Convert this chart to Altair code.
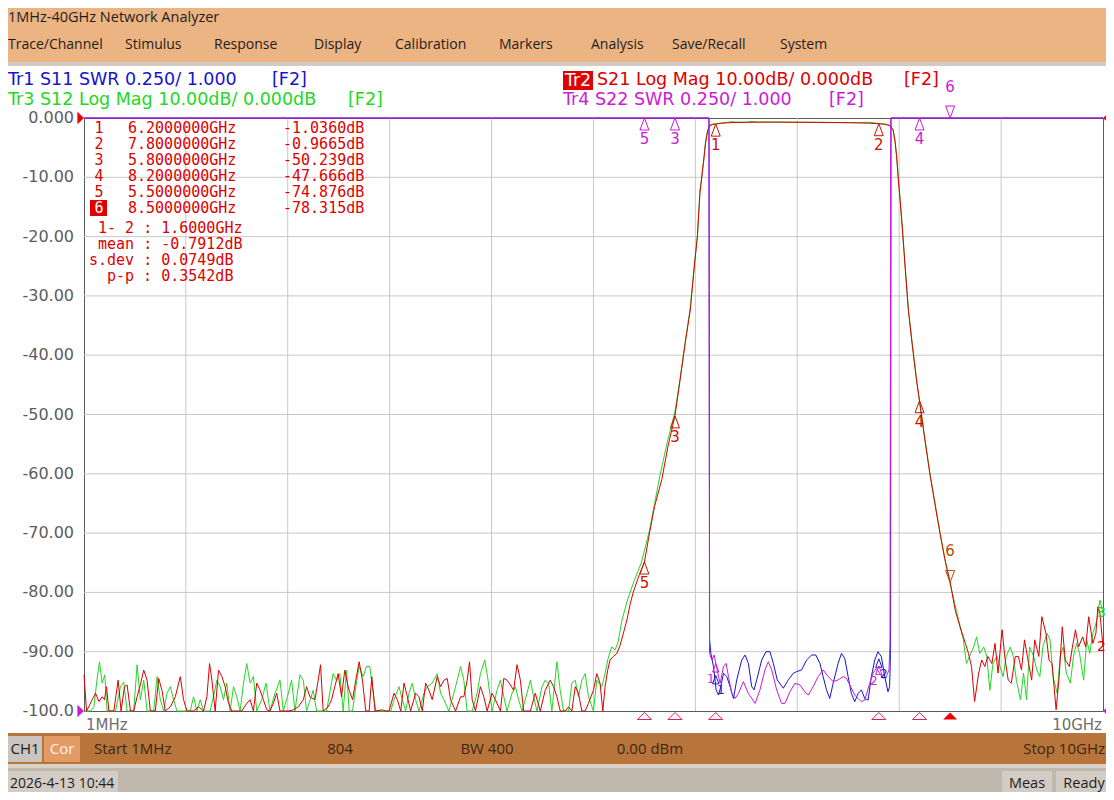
import altair as alt
import pandas as pd

# ---------------- data (GHz, value) ----------------
# Tr2  S21 Log Mag (dB)
S21_LOW = [(0.001,-93.9),(0.026,-100),(0.082,-98.1),(0.114,-97.0),(0.147,-98.4),(0.179,-97.6),(0.202,-98.1),(0.222,-95.9),
 (0.245,-100),(0.294,-100),(0.336,-94.8),(0.365,-100),(0.398,-95.9),(0.424,-95.6),(0.457,-100),(0.489,-100),(0.522,-97.6),
 (0.554,-95.6),(0.587,-93.1),(0.620,-94.8),(0.652,-100),(0.701,-100),(0.734,-94.5),(0.766,-96.5),(0.799,-100),(0.848,-99.3),
 (0.897,-97.6),(0.946,-94.2),(0.978,-98.1),(1.011,-100),(1.076,-100),(1.125,-99.3),(1.174,-100),(1.207,-97.6),(1.233,-92.0),
 (1.256,-94.8),(1.288,-100),(1.321,-93.1),(1.354,-94.2),(1.386,-95.9),(1.419,-98.7),(1.451,-100),(1.549,-100),(1.598,-98.7),
 (1.631,-98.1),(1.663,-100),(1.696,-95.3),(1.729,-96.5),(1.761,-98.1),(1.794,-99.8),(1.826,-100),(1.859,-98.7),(1.892,-97.0),
 (1.924,-100),(2.006,-100),(2.055,-99.8),(2.104,-99.3),(2.153,-98.1),(2.185,-95.9),(2.218,-97.6),(2.267,-98.1),(2.299,-94.8),
 (2.322,-92.2),(2.348,-100),(2.397,-99.3),(2.430,-98.1),(2.462,-95.9),(2.495,-93.7),(2.528,-97.6),(2.560,-93.1),(2.593,-95.9),
 (2.603,-96.5),(2.636,-98.1),(2.668,-94.8),(2.701,-91.7),(2.733,-94.8),(2.766,-100),(2.799,-100),(2.825,-94.2),(2.857,-100),
 (2.929,-99.8),(2.962,-100),(2.994,-100),(3.043,-97.0),(3.076,-98.1),(3.109,-100),(3.141,-95.3),(3.174,-97.6),(3.206,-100),
 (3.255,-97.0),(3.288,-97.6),(3.321,-100),(3.353,-95.3),(3.386,-96.5),(3.418,-98.1),(3.467,-94.2),(3.500,-95.9),(3.533,-94.8),
 (3.565,-94.5),(3.598,-98.1),(3.647,-100),(3.696,-97.6),(3.728,-97.6),(3.761,-94.8),(3.784,-91.7),(3.810,-98.1),(3.842,-100),
 (3.891,-95.9),(3.924,-97.6),(3.957,-100),(4.005,-97.0),(4.038,-98.1),(4.087,-100),(4.120,-94.5),(4.152,-94.8),(4.185,-95.6),
 (4.217,-96.5),(4.250,-92.2),(4.283,-94.8),(4.315,-100),(4.381,-100),(4.429,-97.0),(4.478,-100),(4.527,-96.5),(4.576,-94.8),
 (4.609,-95.9),(4.641,-97.6),(4.674,-100),(4.723,-100),(4.756,-99.3),(4.788,-100),(4.821,-95.9),(4.853,-97.0),(4.886,-100),
 (4.919,-100),(4.951,-98.7),(5.000,-96.5),(5.033,-93.7),(5.065,-95.3),(5.092,-100),(5.114,-95.9),(5.140,-93.1),(5.163,-91.4),
 (5.196,-90.8),(5.229,-90.3)]
S21_BAND = [(5.26,-89.0),(5.30,-86.5),(5.33,-84.5),(5.36,-82.0),(5.39,-80.0),(5.45,-77.0),(5.50,-74.9),(5.55,-70.0),
 (5.60,-65.5),(5.67,-61.0),(5.73,-55.5),(5.80,-50.2),(5.85,-44.2),(5.90,-38.0),(5.95,-32.4),(5.99,-25.0),(6.02,-20.0),
 (6.045,-12.6),(6.08,-7.5),(6.10,-4.2),(6.12,-2.2),(6.14,-1.3),(6.17,-1.1),(6.20,-1.04),(6.25,-0.90),(6.30,-0.82),
 (6.40,-0.76),(6.50,-0.73),(6.60,-0.71),(6.70,-0.70),(6.80,-0.70),(6.90,-0.71),(7.00,-0.72),(7.20,-0.74),(7.40,-0.77),
 (7.60,-0.82),(7.70,-0.88),(7.80,-0.97),(7.86,-1.05),(7.91,-1.3),(7.94,-2.0),(7.96,-4.0),(7.975,-6.5),(7.99,-10.0),
 (8.01,-14.0),(8.03,-18.4),(8.06,-25.5),(8.09,-32.4),(8.13,-38.5),(8.17,-44.2),(8.20,-47.7),(8.25,-54.0),(8.30,-59.9),
 (8.35,-65.0),(8.40,-70.0),(8.45,-74.5),(8.50,-78.3),(8.55,-83.0),(8.60,-86.0),(8.65,-88.6)]
S21_HIGH = [(8.68,-90.3),(8.71,-92.5),(8.74,-98.4),(8.78,-93.6),(8.81,-91.4),(8.84,-92.5),(8.87,-90.8),(8.91,-92.0),
 (8.94,-88.6),(8.97,-93.6),(9.01,-86.3),(9.04,-91.4),(9.07,-94.8),(9.10,-95.3),(9.14,-90.8),(9.17,-90.8),(9.20,-93.1),
 (9.23,-88.0),(9.27,-92.0),(9.30,-94.8),(9.33,-88.0),(9.37,-90.8),(9.40,-84.1),(9.44,-86.9),(9.47,-91.4),(9.50,-92.0),
 (9.54,-99.8),(9.57,-94.2),(9.60,-85.8),(9.63,-91.4),(9.67,-92.5),(9.70,-89.2),(9.73,-86.3),(9.76,-89.2),(9.80,-87.5),
 (9.83,-89.2),(9.86,-84.1),(9.90,-88.6),(9.93,-86.9),(9.95,-82.4),(9.97,-83.5),(10.0,-89.2)]

# Tr3  S12 Log Mag (dB)
S12_LOW = [(0.001,-100),(0.065,-100),(0.098,-99.3),(0.130,-94.5),(0.153,-91.7),(0.179,-95.3),(0.205,-93.9),(0.228,-100),
 (0.310,-100),(0.359,-95.9),(0.391,-95.1),(0.424,-100),(0.489,-100),(0.522,-92.2),(0.554,-98.1),(0.587,-94.8),(0.620,-100),
 (0.685,-100),(0.718,-94.2),(0.750,-98.1),(0.783,-100),(0.815,-97.0),(0.848,-95.9),(0.881,-98.1),(0.913,-100),(1.044,-100),
 (1.076,-97.6),(1.109,-100),(1.142,-98.1),(1.174,-100),(1.239,-100),(1.272,-97.6),(1.305,-94.8),(1.337,-95.9),(1.370,-98.1),
 (1.402,-95.3),(1.435,-100),(1.468,-95.9),(1.500,-97.6),(1.533,-100),(1.566,-95.3),(1.598,-92.0),(1.631,-95.3),(1.663,-94.2),
 (1.696,-100),(1.745,-98.1),(1.787,-95.3),(1.826,-100),(1.875,-97.0),(1.924,-94.8),(1.957,-100),(2.006,-97.0),(2.038,-94.8),
 (2.071,-100),(2.120,-93.9),(2.153,-94.8),(2.185,-100),(2.250,-96.5),(2.283,-100),(2.381,-100),(2.446,-93.7),(2.479,-94.8),
 (2.511,-93.7),(2.544,-100),(2.577,-93.1),(2.603,-100),(2.636,-100),(2.668,-95.9),(2.701,-92.5),(2.740,-94.2),(2.773,-92.5),
 (2.805,-92.5),(2.831,-95.9),(2.864,-100),(3.011,-100),(3.043,-98.1),(3.092,-95.9),(3.125,-98.1),(3.157,-100),(3.190,-97.0),
 (3.223,-95.3),(3.255,-98.1),(3.288,-100),(3.337,-97.0),(3.369,-95.9),(3.418,-95.3),(3.467,-93.7),(3.500,-97.0),(3.533,-98.1),
 (3.581,-100),(3.630,-97.0),(3.663,-94.8),(3.696,-92.5),(3.728,-94.8),(3.761,-100),(3.810,-100),(3.859,-97.0),(3.891,-93.7),
 (3.934,-91.4),(3.966,-94.8),(4.005,-100),(4.054,-96.5),(4.087,-94.8),(4.120,-97.6),(4.152,-100),(4.201,-97.0),(4.234,-95.9),
 (4.266,-98.1),(4.299,-100),(4.348,-97.0),(4.381,-94.8),(4.413,-97.6),(4.446,-100),(4.495,-95.9),(4.527,-94.8),(4.560,-95.3),
 (4.592,-100),(4.641,-91.7),(4.674,-96.5),(4.707,-100),(4.756,-100),(4.788,-95.3),(4.821,-94.8),(4.853,-97.6),(4.886,-94.8),
 (4.919,-93.7),(4.951,-97.6),(5.000,-100),(5.033,-94.8),(5.082,-95.9),(5.114,-93.7),(5.140,-91.4),(5.179,-89.2),(5.212,-89.7)]
S12_BAND = [(5.24,-88.5),(5.28,-84.7),(5.33,-81.5),(5.40,-78.0),(5.47,-75.0),(5.55,-69.5),(5.60,-65.0),(5.65,-60.5),
 (5.72,-55.0),(5.80,-49.5),(5.85,-44.0),(5.90,-37.8),(5.95,-32.0),(5.99,-24.8),(6.02,-19.8),(6.045,-12.5),(6.08,-7.3),
 (6.10,-4.0),(6.12,-2.1),(6.14,-1.2),(6.17,-1.0),(6.20,-0.98),(6.25,-0.86),(6.30,-0.76),(6.36,-0.62),(6.40,-0.70),
 (6.50,-0.70),(6.56,-0.58),(6.62,-0.68),(6.80,-0.69),(7.00,-0.71),(7.20,-0.73),(7.40,-0.76),(7.60,-0.80),(7.72,-0.72),
 (7.80,-0.95),(7.86,-1.03),(7.91,-1.25),(7.94,-1.9),(7.96,-3.9),(7.975,-6.4),(7.99,-9.9),(8.01,-13.9),(8.03,-18.3),
 (8.06,-25.3),(8.09,-32.2),(8.13,-38.3),(8.17,-44.0),(8.20,-48.0),(8.25,-53.8),(8.30,-59.7),(8.35,-64.8),(8.40,-69.8),
 (8.45,-74.6),(8.50,-78.5),(8.53,-80.7)]
S12_HIGH = [(8.56,-83.0),(8.60,-85.8),(8.63,-88.0),(8.66,-92.0),(8.69,-90.8),(8.73,-89.2),(8.76,-87.5),(8.79,-90.3),
 (8.83,-89.2),(8.86,-90.8),(8.89,-96.5),(8.92,-92.0),(8.96,-90.8),(8.99,-92.5),(9.02,-94.2),(9.05,-90.8),(9.09,-89.2),
 (9.12,-90.8),(9.15,-94.8),(9.19,-98.1),(9.22,-93.6),(9.25,-98.1),(9.28,-89.2),(9.32,-90.8),(9.35,-93.1),(9.38,-94.2),
 (9.41,-89.2),(9.45,-86.9),(9.48,-88.0),(9.51,-94.2),(9.55,-97.0),(9.58,-90.8),(9.61,-89.2),(9.64,-93.6),(9.68,-95.3),
 (9.71,-90.8),(9.74,-88.6),(9.77,-90.3),(9.81,-94.8),(9.84,-88.0),(9.87,-90.3),(9.90,-86.9),(9.94,-84.7),(9.97,-81.3),
 (10.0,-83.5)]

# Tr1  S11 SWR  (off-scale values are above 3.5)
S11_SWR = [(0.001,20),(6.134,20),(6.140,1.30),(6.152,1.243),(6.178,1.187),(6.204,1.089),(6.227,1.067),(6.250,1.103),
 (6.276,1.159),(6.308,1.145),(6.341,1.103),(6.374,1.053),(6.406,1.131),(6.455,1.215),(6.488,1.236),(6.520,1.201),
 (6.553,1.103),(6.576,1.089),(6.602,1.131),(6.651,1.215),(6.693,1.250),(6.732,1.250),(6.765,1.201),(6.804,1.131),
 (6.863,1.096),(6.912,1.131),(6.961,1.159),(6.993,1.166),(7.042,1.173),(7.091,1.215),(7.140,1.236),(7.182,1.236),
 (7.222,1.201),(7.254,1.145),(7.287,1.089),(7.319,1.053),(7.352,1.117),(7.401,1.201),(7.434,1.243),(7.466,1.222),
 (7.499,1.145),(7.531,1.074),(7.564,1.039),(7.597,1.074),(7.629,1.089),(7.662,1.053),(7.695,1.046),(7.727,1.145),
 (7.760,1.215),(7.792,1.250),(7.825,1.229),(7.858,1.145),(7.890,1.081),(7.906,1.103),(7.912,1.187),(7.916,1.356),
 (7.920,20),(10.0,20)]
# Tr4  S22 SWR
S22_SWR = [(0.001,20),(6.133,20),(6.139,1.243),(6.162,1.215),(6.184,1.236),(6.210,1.180),(6.243,1.117),(6.276,1.187),
 (6.302,1.201),(6.325,1.145),(6.357,1.074),(6.390,1.053),(6.423,1.074),(6.471,1.124),(6.520,1.074),(6.586,1.032),
 (6.634,1.089),(6.683,1.173),(6.716,1.208),(6.749,1.173),(6.798,1.089),(6.846,1.032),(6.879,1.032),(6.928,1.081),
 (6.977,1.117),(7.026,1.110),(7.075,1.081),(7.107,1.067),(7.156,1.103),(7.205,1.145),(7.254,1.173),(7.303,1.145),
 (7.352,1.124),(7.401,1.131),(7.450,1.145),(7.482,1.138),(7.515,1.110),(7.564,1.067),(7.597,1.053),(7.629,1.039),
 (7.662,1.046),(7.711,1.117),(7.743,1.159),(7.776,1.180),(7.809,1.159),(7.841,1.138),(7.874,1.145),(7.900,1.173),
 (7.910,1.285),(7.917,20),(10.0,20)]

# markers
MK_NUM = ["1", "2", "3", "4", "5", "6"]
MK_FREQ = [6.2, 7.8, 5.8, 8.2, 5.5, 8.5]
MK_S21 = [-1.0360, -0.9665, -50.239, -47.666, -74.876, -78.315]
MK_S11 = [1.15, 1.22]          # markers 1, 2 on Tr1
MK_S22 = [1.20, 1.19]          # markers 1, 2 on Tr4 (3..6 off-scale)
STAT_LABEL = ["1- 2", "mean", "s.dev", "p-p"]
STAT_VALUE = ["1.6000GHz", "-0.7912dB", "0.0749dB", "0.3542dB"]

Y_TICKS = [0, -10, -20, -30, -40, -50, -60, -70, -80, -90, -100]
Y_LABELS = ["0.000", "-10.00", "-20.00", "-30.00", "-40.00", "-50.00", "-60.00", "-70.00", "-80.00", "-90.00", "-100.0"]
X_GRID = [1, 2, 3, 4, 5, 6, 7, 8, 9]

MENU = ["Trace/Channel", "Stimulus", "Response", "Display", "Calibration",
        "Markers", "Analysis", "Save/Recall", "System"]
STATUS = ["Start 1MHz", "804", "BW 400", "0.00 dBm", "Stop 10GHz"]

# ---------------- layout / style ----------------
W, H = 1019, 593
PAD = {"left": 76, "top": 110, "right": 3, "bottom": 81}
RIGHT = W + 3
RED, GREEN, BLUE, MAG = "#DD0000", "#22D822", "#1414D0", "#CC1AD6"
SANS, MONO, UI = "DejaVu Sans", "DejaVu Sans Mono", "Open Sans"

XS = alt.Scale(domain=[0.001, 10], nice=False, zero=False)
YDB = alt.Scale(domain=[-100, 0], nice=False, zero=False, clamp=True)
YSWR = alt.Scale(domain=[1.0, 3.5], nice=False, zero=False, clamp=True)


def tdf(pairs):
    df = pd.DataFrame(pairs, columns=["f", "v"])
    df["i"] = range(len(df))
    return df


def trace(pairs, color, yscale):
    return alt.Chart(tdf(pairs)).mark_line(color=color, strokeWidth=1).encode(
        x=alt.X("f:Q", scale=XS, axis=None),
        y=alt.Y("v:Q", scale=yscale, axis=None),
        order="i:Q")


def rect(x0, x1, y0, y1, color):
    return alt.Chart(pd.DataFrame({"a": [0]})).mark_rect(color=color).encode(
        x=alt.value(x0), x2=alt.value(x1), y=alt.value(y0), y2=alt.value(y1))


def label(t, x, y, color, size=17.5, font=SANS, align="left"):
    return alt.Chart(pd.DataFrame({"t": [t]})).mark_text(
        align=align, baseline="middle", font=font, fontSize=size, color=color).encode(
        x=alt.value(x), y=alt.value(y), text="t:N")


TRI_BELOW = "M0,0L-0.45,1.2L0.45,1.2Z"
TRI_ABOVE = "M0,0L-0.45,-1.2L0.45,-1.2Z"
TRI_AXIS = "M0,-0.5L-1,0.5L1,0.5Z"
TRI_RIGHT = "M0,0L-1.1,-1.05L-1.1,1.05Z"
TRI_LEFT = "M0,0L1.1,-1.05L1.1,1.05Z"

# ---------------- chrome ----------------
deco = [
    rect(-76, RIGHT, -110, -56, "#ECB383"),
    rect(-76, RIGHT, -56, -52, "#D3CBC3"),
    rect(-76, RIGHT, 615, 646, "#B8753B"),
    rect(-76, RIGHT, 646, 650, "#D9D1C7"),
    rect(-76, RIGHT, 650, 674, "#C0B8AD"),
    rect(-76, -42, 618, 644, "#CAC5BF"),
    rect(-40, -4, 618, 644, "#E39B66"),
    rect(-76, 34, 653, 674, "#D2CCC4"),
    rect(918, 968, 653, 674, "#D2CCC4"),
    rect(972, RIGHT, 653, 674, "#D2CCC4"),
    rect(479, 509, -47, -28, "#E00000"),
    rect(6, 23, 82, 98, "#E00000"),
]

# grid and y labels through the dB scale
ygrid = alt.Chart(pd.DataFrame({"v": Y_TICKS[1:-1]})).mark_rule(color="#C8C8C8", strokeWidth=1).encode(
    y=alt.Y("v:Q", scale=YDB, axis=None), x=alt.value(0), x2=alt.value(W))
xgrid = alt.Chart(pd.DataFrame({"f": X_GRID})).mark_rule(color="#C8C8C8", strokeWidth=1).encode(
    x=alt.X("f:Q", scale=XS, axis=None), y=alt.value(0), y2=alt.value(H))
ylabels = alt.Chart(pd.DataFrame({"v": Y_TICKS, "t": Y_LABELS})).mark_text(
    align="right", baseline="middle", font=SANS, fontSize=16, color="#5C5C5C").encode(
    y=alt.Y("v:Q", scale=YDB, axis=None), x=alt.value(-10), text="t:N")

texts = [label("1MHz-40GHz Network Analyzer", -76, -100, "#1E1E1E", 14.5, UI)]
menu_x = [-76, 41, 130, 230, 311, 415, 507, 588, 696]
texts += [label(m, x, -73, "#1E1E1E", 14, UI) for m, x in zip(MENU, menu_x)]
texts += [
    label("Tr1 S11 SWR 0.250/ 1.000", -76, -38, BLUE),
    label("[F2]", 188, -38, BLUE),
    label("Tr3 S12 Log Mag 10.00dB/ 0.000dB", -76, -18, GREEN),
    label("[F2]", 264, -18, GREEN),
    label("Tr2", 494, -37, "#FFFFFF", align="center"),
    label("S21 Log Mag 10.00dB/ 0.000dB", 513, -38, RED),
    label("[F2]", 820, -38, RED),
    label("Tr4 S22 SWR 0.250/ 1.000", 479, -18, MAG),
    label("[F2]", 745, -18, MAG),
    label("1MHz", 2, 607, "#6E6E6E", 15),
    label("10GHz", 1018, 607, "#6E6E6E", 15, align="right"),
    label("CH1", -59, 631, "#202020", 15, UI, "center"),
    label("Cor", -22, 631, "#FFF2E6", 15, UI, "center"),
    label("2026-4-13 10:44", -74, 666, "#1E1E1E", 14, UI),
    label("Meas", 943, 666, "#1E1E1E", 14.5, UI, "center"),
    label("Ready", 1000, 666, "#1E1E1E", 14.5, UI, "center"),
]
status_x = [10, 256, 403, 566, 1021]
status_al = ["left", "center", "center", "center", "right"]
texts += [label(s, x, 631, "#3A2614", 15, UI, a) for s, x, a in zip(STATUS, status_x, status_al)]


# marker table
def dbtxt(v):
    return (f"{v:.4f}" if abs(v) < 10 else f"{v:.3f}") + "dB"


tab = pd.DataFrame({"num": MK_NUM,
                    "ft": [f"{f:.7f}GHz" for f in MK_FREQ],
                    "dt": [dbtxt(v) for v in MK_S21],
                    "yy": [10 + 16 * i for i in range(len(MK_NUM))],
                    "col": [RED] * 5 + ["#FFFFFF"]})
tab_base = alt.Chart(tab).encode(y=alt.Y("yy:Q", scale=None))
table = [
    tab_base.mark_text(align="center", baseline="middle", font=MONO, fontSize=15).encode(
        x=alt.value(15), text="num:N", color=alt.Color("col:N", scale=None)),
    tab_base.mark_text(align="left", baseline="middle", font=MONO, fontSize=15, color=RED).encode(
        x=alt.value(44), text="ft:N"),
    tab_base.mark_text(align="left", baseline="middle", font=MONO, fontSize=15, color=RED).encode(
        x=alt.value(199), text="dt:N"),
]
stat_x = [14, 14, 5, 23]
stat_y = [110, 126, 142, 158]
for lab, val, x, y in zip(STAT_LABEL, STAT_VALUE, stat_x, stat_y):
    texts.append(label(f"{lab} : {val}", x, y, RED, 15, MONO))

# ---------------- traces ----------------
db_group = alt.layer(
    trace(S12_LOW + S12_BAND + S12_HIGH, GREEN, YDB),
    trace(S21_LOW + S21_BAND + S21_HIGH, RED, YDB),
)
swr_group = alt.layer(
    trace(S11_SWR, BLUE, YSWR),
    trace(S22_SWR, MAG, YSWR),
)

# ---------------- markers ----------------
mk = pd.DataFrame({"num": MK_NUM, "f": MK_FREQ, "v": MK_S21})
mk_norm = mk[mk["num"] != "6"]
mk_act = mk[mk["num"] == "6"]
mX = alt.X("f:Q", scale=XS, axis=None)
mY = alt.Y("v:Q", scale=YDB, axis=None)
mcol = "#C81400"
s21_markers = alt.layer(
    alt.Chart(mk_norm).mark_point(shape=TRI_BELOW, size=400, color=mcol, strokeWidth=1, opacity=1).encode(x=mX, y=mY),
    alt.Chart(mk_norm).mark_text(dy=21, font=SANS, fontSize=15, color=mcol).encode(x=mX, y=mY, text="num:N"),
    alt.Chart(mk_act).mark_point(shape=TRI_ABOVE, size=400, color="#B84A00", strokeWidth=1, opacity=1).encode(x=mX, y=mY),
    alt.Chart(mk_act).mark_text(dy=-31, font=SANS, fontSize=15, color="#B84A00").encode(x=mX, y=mY, text="num:N"),
)

# Tr4 off-scale markers at the top, Tr1/Tr4 markers 1,2 in the pass band
top_mk = mk[mk["num"].isin(["3", "4", "5"])]
swr_markers = alt.layer(
    alt.Chart(top_mk).mark_point(shape=TRI_BELOW, size=400, color=MAG, strokeWidth=1, opacity=1).encode(x=mX, y=alt.value(0)),
    alt.Chart(top_mk).mark_text(dy=21, font=SANS, fontSize=15, color=MAG).encode(x=mX, y=alt.value(0), text="num:N"),
    alt.Chart(mk_act).mark_point(shape=TRI_ABOVE, size=400, color=MAG, strokeWidth=1, opacity=1).encode(x=mX, y=alt.value(0)),
    alt.Chart(mk_act).mark_text(dy=-31, font=SANS, fontSize=15, color=MAG).encode(x=mX, y=alt.value(0), text="num:N"),
)
s11_mk = pd.DataFrame({"num": MK_NUM[:2], "f": MK_FREQ[:2], "s": MK_S11})
s22_mk = pd.DataFrame({"num": MK_NUM[:2], "f": MK_FREQ[:2], "s": MK_S22})
sY = alt.Y("s:Q", scale=YSWR, axis=None)
swr_band_markers = alt.layer(
    alt.Chart(s11_mk).mark_point(shape=TRI_BELOW, size=200, strokeWidth=1, opacity=1, color=BLUE).encode(x=mX, y=sY),
    alt.Chart(s22_mk).mark_point(shape=TRI_BELOW, size=200, strokeWidth=1, opacity=1, color=MAG).encode(x=mX, y=sY),
    alt.Chart(s11_mk).mark_text(dy=15, dx=5, font=SANS, fontSize=12, color=BLUE).encode(x=mX, y=sY, text="num:N"),
    alt.Chart(s22_mk).mark_text(dy=15, dx=-5, font=SANS, fontSize=12, color=MAG).encode(x=mX, y=sY, text="num:N"),
)

# marker position indicators under the axis
axis_mk = alt.layer(
    alt.Chart(mk_norm).mark_point(shape=TRI_AXIS, size=196, color="#E0204A", strokeWidth=1, opacity=1).encode(
        x=mX, y=alt.value(H + 5)),
    alt.Chart(mk_act).mark_point(shape=TRI_AXIS, size=196, color="#EE0000", filled=True, opacity=1).encode(
        x=mX, y=alt.value(H + 5)),
)

# reference level arrows and trace end labels
one = pd.DataFrame({"a": [0]})
ends = pd.DataFrame({"f": [10.0, 10.0], "v": [S12_HIGH[-1][1], S21_HIGH[-1][1]],
                     "t": ["3", "2"], "c": [GREEN, RED]})
refs = [
    alt.Chart(one).mark_point(shape=TRI_RIGHT, size=144, filled=True, color="#EE0000", opacity=1).encode(
        x=alt.value(0), y=alt.value(0)),
    alt.Chart(one).mark_point(shape=TRI_RIGHT, size=144, filled=True, color=MAG, opacity=1).encode(
        x=alt.value(0), y=alt.value(H)),
    alt.Chart(one).mark_point(shape=TRI_LEFT, size=144, filled=True, color="#EE0000", opacity=1).encode(
        x=alt.value(W), y=alt.value(0)),
    alt.Chart(one).mark_point(shape=TRI_LEFT, size=144, filled=True, color=MAG, opacity=1).encode(
        x=alt.value(W), y=alt.value(H)),
    alt.Chart(ends).mark_text(align="right", dx=3, font=SANS, fontSize=14).encode(
        x=mX, y=mY, text="t:N", color=alt.Color("c:N", scale=None)),
]

chart = alt.layer(
    *deco, ygrid, xgrid, ylabels, db_group, swr_group, s21_markers, swr_markers, swr_band_markers,
    axis_mk, *refs, *table, *texts
).resolve_scale(y="independent").properties(
    width=W, height=H, padding=PAD, autosize=alt.AutoSizeParams(type="none"), background="#FFFFFF"
).configure_view(stroke="#5A5A5A", strokeWidth=1)

chart.save("out.html", embed_options={"renderer": "svg", "actions": False})
